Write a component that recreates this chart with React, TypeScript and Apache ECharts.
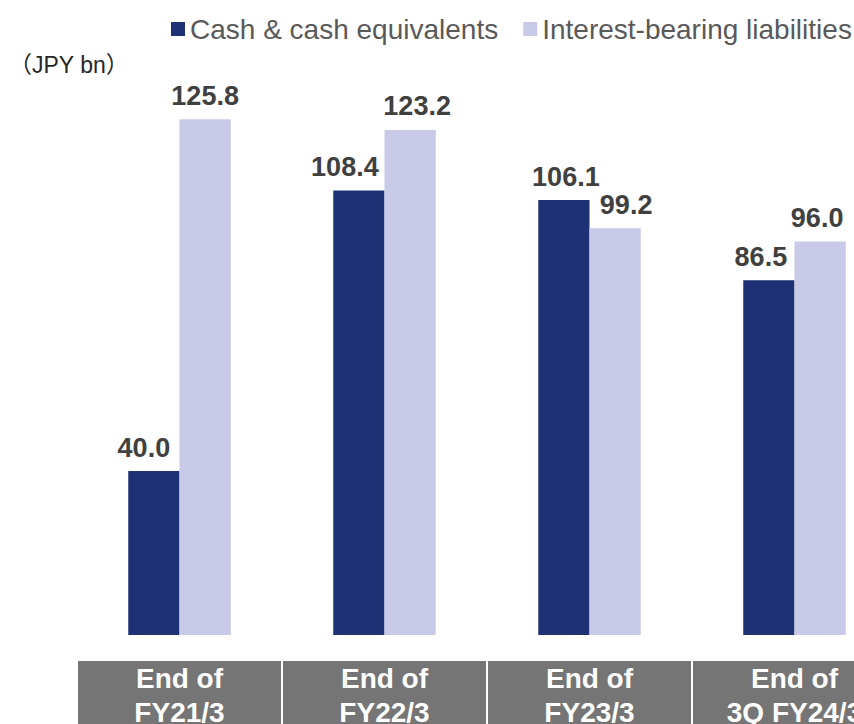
import React, { useEffect, useRef } from "react";
import * as echarts from "echarts";

const categories = ["End of\nFY21/3", "End of\nFY22/3", "End of\nFY23/3", "End of\n3Q FY24/3"];
const cashValues = [40.0, 108.4, 106.1, 86.5];
const debtValues = [125.8, 123.2, 99.2, 96.0];
const seriesNames = ["Cash & cash equivalents", "Interest-bearing liabilities"];
const unitLabel = "（JPY bn）";

// label horizontal nudges (as placed in the original slide)
const cashLabelShift = [-10, -14, 2, -8];
const debtLabelShift = [0, 7, 11, -3];

const FONT = "Arial, 'Liberation Sans', 'Noto Sans CJK JP', sans-serif";

export default function App() {
  const ref = useRef<HTMLDivElement>(null);

  useEffect(() => {
    if (!ref.current) return;
    const chart = echarts.init(ref.current, null, { renderer: "svg" });
    const labelBase = {
      show: true,
      position: "top",
      distance: 10,
      fontSize: 27,
      fontWeight: "bold",
      color: "#404040",
      fontFamily: FONT,
      formatter: (p: any) => Number(p.value).toFixed(1),
    };
    chart.setOption({
      animation: false,
      textStyle: { fontFamily: FONT },
      legend: {
        left: 166,
        top: 10,
        width: 800,
        itemWidth: 14,
        itemHeight: 14,
        itemGap: 25,
        icon: "rect",
        textStyle: { fontSize: 28, color: "#595959", fontFamily: FONT },
        data: seriesNames,
      },
      graphic: [
        {
          type: "text",
          left: 9,
          top: 53,
          style: { text: unitLabel, fontSize: 23, fill: "#262626", fontFamily: FONT },
        },
      ],
      grid: { left: 77, right: -43, top: 20, bottom: 89, outerBoundsMode: "none", containLabel: false },
      xAxis: {
        type: "category",
        data: categories,
        axisLine: { show: false },
        axisTick: { show: false },
        axisLabel: {
          interval: 0,
          hideOverlap: false,
          margin: 26,
          color: "#ffffff",
          fontSize: 28,
          fontWeight: "bold",
          fontFamily: FONT,
          lineHeight: 34,
          width: 203,
          align: "center",
          backgroundColor: "#757575",
          padding: [0, 0, 30, 0],
        },
      },
      yAxis: {
        type: "value",
        min: 0,
        max: 150,
        show: false,
        splitLine: { show: false },
      },
      series: [
        {
          name: seriesNames[0],
          type: "bar",
          barGap: "0%",
          barCategoryGap: "50%",
          itemStyle: { color: "#1F3175" },
          label: labelBase,
          data: cashValues.map((v, i) => ({ value: v, label: { offset: [cashLabelShift[i], 0] } })),
        },
        {
          name: seriesNames[1],
          type: "bar",
          itemStyle: { color: "#C8CAE8" },
          label: labelBase,
          data: debtValues.map((v, i) => ({ value: v, label: { offset: [debtLabelShift[i], 0] } })),
        },
      ],
    });
    return () => chart.dispose();
  }, []);

  return (
    <div
      ref={ref}
      style={{ position: "fixed", left: 0, top: 0, width: 854, height: 724, background: "#fff" }}
    />
  );
}
